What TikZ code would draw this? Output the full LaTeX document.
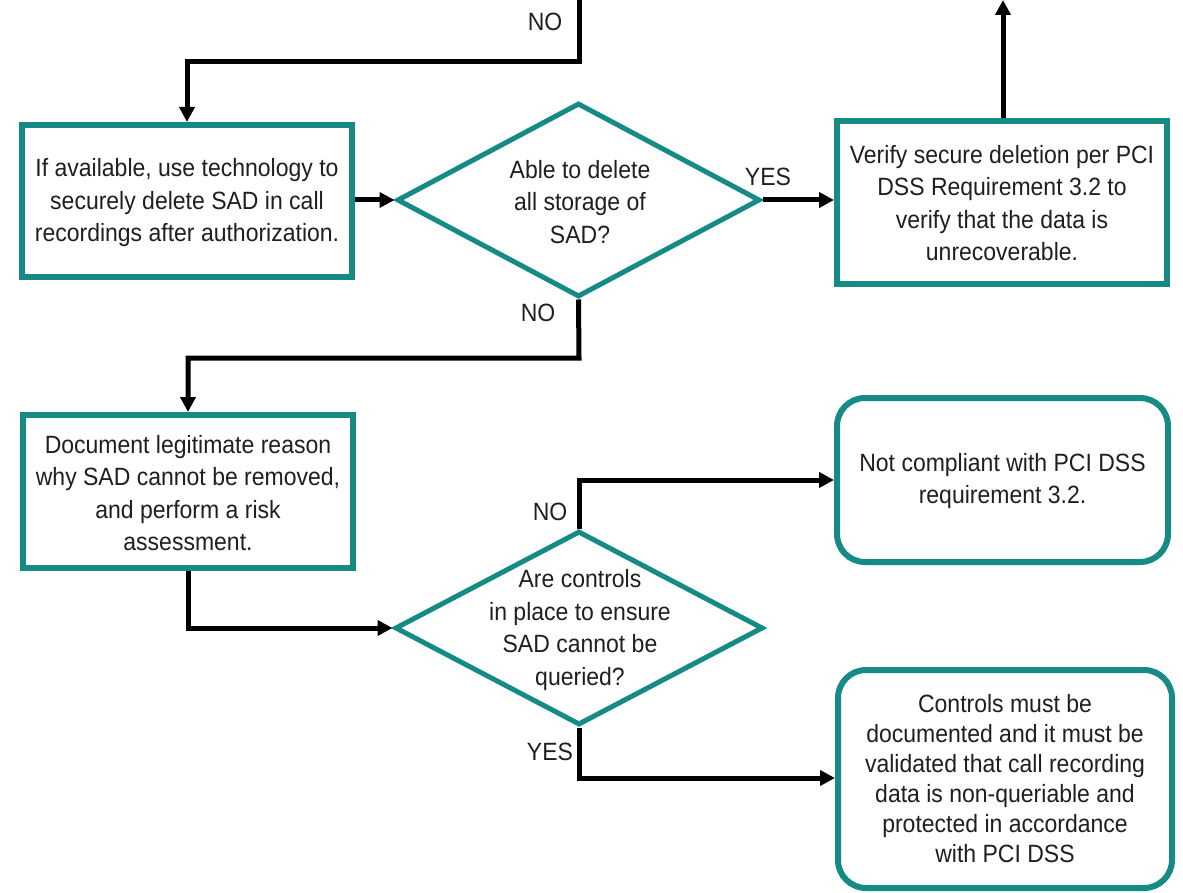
\documentclass[tikz,border=0pt]{standalone}
\usepackage{fontspec}
\setmainfont{Liberation Sans}[FakeStretch=0.92]
\usetikzlibrary{shapes.geometric,arrows.meta,shadows}
\definecolor{teal1}{RGB}{22,138,132}
\begin{document}
\begin{tikzpicture}[x=1pt,y=-1pt,
  every node/.style={font=\fontsize{25}{32.5}\selectfont, text=black!88},
  box/.style={draw=teal1, line width=6pt, fill=white, inner sep=0pt,
    drop shadow={shadow xshift=1pt, shadow yshift=-3pt, opacity=0.25, fill=black!60}},
  rbox/.style={box, rounded corners=28pt},
  dia/.style={draw=teal1, line width=5pt, fill=white, diamond, inner sep=0pt},
  txt/.style={align=center, inner sep=0pt},
  lbl/.style={inner sep=0pt},
  conn/.style={line width=5pt, draw=black, line join=miter},
  arr/.style={conn, -{Triangle[length=15pt,width=15pt]}}
]
\useasboundingbox (0,0) rectangle (1183,893);

% boxes
\node[box, minimum width=330pt, minimum height=152pt] (b1) at (187,201) {};
\node[txt] (b1t) at (187,203) {If available, use technology to\\securely delete SAD in call\\recordings after authorization.};

\node[box, minimum width=330pt, minimum height=163pt] (b3) at (1002,202.5) {};
\node[txt] (b3t) at (1002,203) {Verify secure deletion per PCI\\DSS Requirement 3.2 to\\verify that the data is\\unrecoverable.};

\node[box, minimum width=330pt, minimum height=153pt] (b2) at (188,491.5) {};
\node[txt] (b2t) at (188,493) {Document legitimate reason\\why SAD cannot be removed,\\and perform a risk\\assessment.};

\node[rbox, minimum width=331pt, minimum height=164pt] (b5) at (1002.5,480) {};
\node[txt] (b5t) at (1002.5,481) {Not compliant with PCI DSS\\requirement 3.2.};

\node[rbox, minimum width=334pt, minimum height=218pt] (b4) at (1005,779) {};
\node[txt, font=\fontsize{25}{30}\selectfont] (b4t) at (1005,779) {Controls must be\\documented and it must be\\validated that call recording\\data is non-queriable and\\protected in accordance\\with PCI DSS};

% diamonds
\node[dia, minimum width=363pt, minimum height=194pt] (d1) at (578.5,200) {};
\node[txt] (d1t) at (580,202) {Able to delete\\all storage of\\SAD?};

\node[dia, minimum width=368pt, minimum height=194pt] (d2) at (579,628) {};
\node[txt] (d2t) at (580,630) {Are controls\\in place to ensure\\SAD cannot be\\queried?};

% coordinates
\coordinate (top1) at (579,0);
\coordinate (top2) at (1003,0);

% connectors
\draw[arr] (top1) -- (579,62) -- (b1.north |- 0,62) -- (b1.north);
\draw[arr] (b1.east |- d1.west) -- (d1.west);
\draw[arr] (d1.east) -- (b3.west |- d1.east);
\draw[arr] (b3.north -| top2) -- (top2);
\draw[arr] (d1.south) -- (579,358) -- (b2.north |- 0,358) -- (b2.north);
\draw[arr] (b2.south) -- (b2.south |- d2.west) -- (d2.west);
\draw[arr] (d2.north) -- (579,480) -- (b5.west |- 0,480);
\draw[arr] (d2.south) -- (579,778) -- (b4.west |- 0,778);

% labels
\node[lbl] (n1) at (545,22) {NO};
\node[lbl] (y1) at (768,177) {YES};
\node[lbl] (n2) at (538,313) {NO};
\node[lbl] (n3) at (550,512) {NO};
\node[lbl] (y2) at (550,752) {YES};
\end{tikzpicture}
\end{document}
